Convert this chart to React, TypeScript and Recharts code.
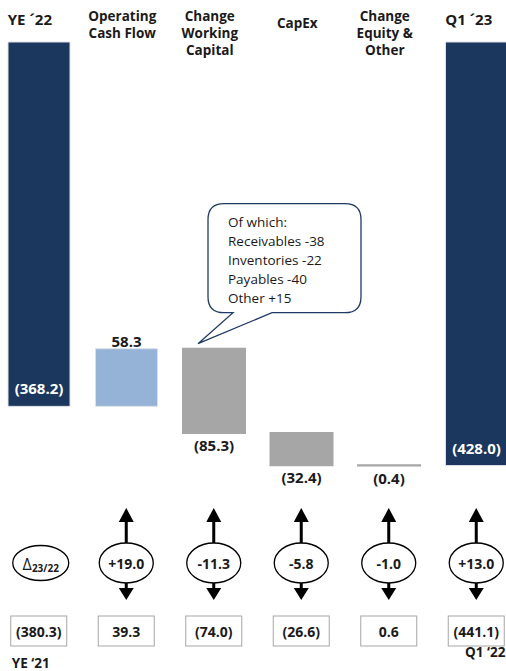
import { BarChart, Bar, XAxis, YAxis, Cell, LabelList } from 'recharts'

// Net debt bridge, YE '22 -> Q1 '23 (EUR m)
const categories = [
  'YE ´22',
  'Operating Cash Flow',
  'Change Working Capital',
  'CapEx',
  'Change Equity & Other',
  'Q1 ´23',
]
const headerLines = [
  ['YE ´22'],
  ['Operating', 'Cash Flow'],
  ['Change', 'Working', 'Capital'],
  ['CapEx'],
  ['Change', 'Equity &', 'Other'],
  ['Q1 ´23'],
]
const movements = [-368.2, 58.3, -85.3, -32.4, -0.4, -428.0]
const isTotal = [true, false, false, false, false, true]

// comparison with prior year
const yoyChange = ['', '+19.0', '-11.3', '-5.8', '-1.0', '+13.0']
const priorYear = [-380.3, 39.3, -74.0, -26.6, 0.6, -441.1]
const priorLabels = ['YE ‘21', '', '', '', '', 'Q1 ‘22']

// working capital breakdown
const wcItems = ['Receivables', 'Inventories', 'Payables', 'Other']
const wcValues = [-38, -22, -40, 15]

const NAVY = '#1b375d'
const LIGHT_BLUE = '#95b3d7'
const GREY = '#a6a6a6'
const FONT = '"Open Sans", Arial, sans-serif'

let running = 0
const table = categories.map((name, i) => {
  const v = movements[i]
  let range: number[]
  if (isTotal[i]) {
    range = [Math.min(0, v), Math.max(0, v)]
    running = v
  } else {
    const next = running + v
    range = [Math.min(running, next), Math.max(running, next)]
    running = next
  }
  return { name, range, value: v }
})

const fmt = (v: number) => (v < 0 ? `(${Math.abs(v).toFixed(1)})` : v.toFixed(1))
const fmtSigned = (v: number) => (v > 0 ? `+${v}` : `${v}`)

const barBox = (props: any) => {
  const vb = props.viewBox || props
  const top = Math.min(vb.y, vb.y + vb.height)
  const bottom = Math.max(vb.y, vb.y + vb.height)
  return { x: vb.x, width: vb.width, top, bottom }
}

const renderValue = (props: any) => {
  const { index, value } = props
  const { x, width, top, bottom } = barBox(props)
  const cx = x + width / 2
  const common = {
    x: cx,
    textAnchor: 'middle' as const,
    dominantBaseline: 'central' as const,
    fontFamily: FONT,
    fontWeight: 700,
    fontSize: 15,
  }
  if (isTotal[index]) {
    return (
      <text {...common} y={bottom - 18} fill="#ffffff">
        {fmt(value)}
      </text>
    )
  }
  if (value > 0) {
    return (
      <text {...common} y={top - 8} fill="#1a1a1a">
        {fmt(value)}
      </text>
    )
  }
  return (
    <text {...common} y={bottom + 12} fill="#1a1a1a">
      {fmt(value)}
    </text>
  )
}

// speech bubble with the working capital split, anchored to its bar
const renderCallout = (props: any) => {
  if (props.value !== 'Change Working Capital') return null
  const { x, top } = barBox(props)
  const L = x + 25
  const R = x + 178
  const T = top - 145
  const B = top - 36
  const r = 16
  const tipX = x + 15
  const tipY = top - 5
  const tailA = x + 50
  const tailB = x + 89
  const d = [
    `M ${L + r} ${T}`,
    `H ${R - r}`,
    `Q ${R} ${T} ${R} ${T + r}`,
    `V ${B - r}`,
    `Q ${R} ${B} ${R - r} ${B}`,
    `H ${tailB}`,
    `L ${tipX} ${tipY}`,
    `L ${tailA} ${B}`,
    `H ${L + r}`,
    `Q ${L} ${B} ${L} ${B - r}`,
    `V ${T + r}`,
    `Q ${L} ${T} ${L + r} ${T}`,
    'Z',
  ].join(' ')
  const lines = ['Of which:', ...wcItems.map((n, i) => `${n} ${fmtSigned(wcValues[i])}`)]
  return (
    <g>
      <path d={d} fill="#ffffff" stroke="#1f3b63" strokeWidth={1.3} />
      {lines.map((t, i) => (
        <text
          key={i}
          x={x + 45}
          y={top - 127 + i * 19}
          dominantBaseline="central"
          fontFamily={FONT}
          fontSize={13.5}
          fill="#1a1a1a"
        >
          {t}
        </text>
      ))}
    </g>
  )
}

const TopTick = (props: any) => {
  const { x, payload } = props
  const i = payload.index
  const lines = headerLines[i]
  if (isTotal[i]) {
    return (
      <text
        x={x - 31}
        y={18.5}
        dominantBaseline="central"
        fontFamily={FONT}
        fontWeight={700}
        fontSize={15}
        fill="#1a1a1a"
      >
        {lines[0]}
      </text>
    )
  }
  const start = lines.length === 1 ? 23 : 16
  return (
    <g>
      {lines.map((t, k) => (
        <text
          key={k}
          x={x - 4}
          y={start + k * 17}
          textAnchor="middle"
          dominantBaseline="central"
          fontFamily={FONT}
          fontWeight={700}
          fontSize={13.5}
          fill="#1a1a1a"
        >
          {t}
        </text>
      ))}
    </g>
  )
}

const BottomTick = (props: any) => {
  const { x, y, payload } = props
  const i = payload.index
  const bold = { fontFamily: FONT, fontWeight: 700, fill: '#1a1a1a' }
  const cy = y + 46
  return (
    <g>
      {i === 0 ? (
        <>
          <ellipse cx={x + 2} cy={cy} rx={28} ry={17.5} fill="#fff" stroke="#000" strokeWidth={1.3} />
          <text x={x + 2} y={cy + 1} textAnchor="middle" dominantBaseline="central" fontFamily={FONT} fill="#1a1a1a">
            <tspan fontSize={16}>Δ</tspan>
            <tspan fontSize={10} fontWeight={700} dy={4}>
              23/22
            </tspan>
          </text>
        </>
      ) : (
        <>
          <rect x={x - 1.5} y={y + 4} width={3} height={cy - 20 - (y + 4)} fill="#000" />
          <polygon points={`${x},${y - 9} ${x - 7.5},${y + 5} ${x + 7.5},${y + 5}`} fill="#000" />
          <rect x={x - 1.5} y={cy + 20} width={3} height={6} fill="#000" />
          <polygon points={`${x},${y + 83} ${x - 7.5},${y + 71} ${x + 7.5},${y + 71}`} fill="#000" />
          <ellipse cx={x} cy={cy} rx={27} ry={20} fill="#fff" stroke="#000" strokeWidth={1.3} />
          <text x={x} y={cy} textAnchor="middle" dominantBaseline="central" fontSize={14} {...bold}>
            {yoyChange[i]}
          </text>
        </>
      )}
      <rect x={x - 28} y={y + 99} width={56} height={30} fill="#fff" stroke={GREY} strokeWidth={1} />
      <text x={x} y={y + 114} textAnchor="middle" dominantBaseline="central" fontSize={14} {...bold}>
        {fmt(priorYear[i])}
      </text>
      {priorLabels[i] && (
        <text
          x={i === 0 ? x - 8 : x + 9}
          y={i === 0 ? y + 146 : y + 135}
          textAnchor="middle"
          dominantBaseline="central"
          fontSize={13.5}
          {...bold}
        >
          {priorLabels[i]}
        </text>
      )}
    </g>
  )
}

export default function App() {
  return (
    <div
      style={{
        position: 'absolute',
        left: 0,
        top: 0,
        width: 506,
        height: 671,
        overflow: 'hidden',
        background: '#fff',
      }}
    >
      <div style={{ marginLeft: -5 }}>
        <BarChart width={525} height={671} data={table} margin={{ top: 0, right: 0, bottom: 0, left: 0 }}>
          <XAxis
            xAxisId="top"
            dataKey="name"
            orientation="top"
            height={42}
            axisLine={false}
            tickLine={false}
            tickSize={0}
            tickMargin={0}
            interval={0}
            tick={<TopTick />}
          />
          <XAxis
            xAxisId="bottom"
            dataKey="name"
            orientation="bottom"
            height={154}
            axisLine={false}
            tickLine={false}
            tickSize={0}
            tickMargin={0}
            interval={0}
            tick={<BottomTick />}
          />
          <YAxis hide domain={[-480, 0]} />
          <Bar xAxisId="top" dataKey="range" barSize={62} isAnimationActive={false}>
            {table.map((d, i) => {
              const fill = isTotal[i] ? NAVY : d.value > 0 ? LIGHT_BLUE : GREY
              // grey steps get a same-colour outline so the tiny ones stay visible
              return (
                <Cell
                  key={i}
                  fill={fill}
                  stroke={fill === GREY ? GREY : '#dde1e6'}
                  strokeWidth={fill === GREY ? 2 : 1}
                />
              )
            })}
            <LabelList dataKey="value" content={renderValue} />
            <LabelList dataKey="name" content={renderCallout} />
          </Bar>
        </BarChart>
      </div>
    </div>
  )
}
